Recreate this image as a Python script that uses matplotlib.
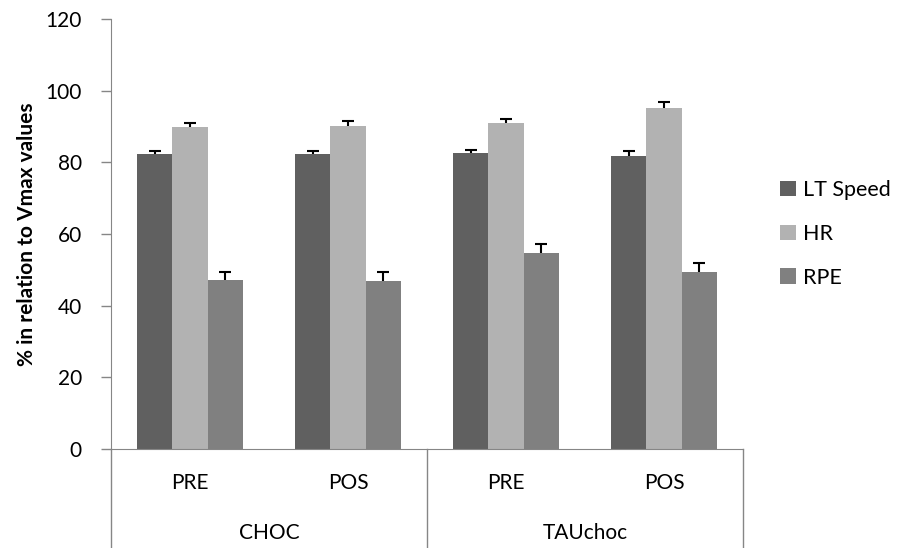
import matplotlib.pyplot as plt
import matplotlib.transforms as mtransforms
import numpy as np

plt.rcParams['font.family'] = ['Lato', 'DejaVu Sans']

# data
phases = ['PRE', 'POS', 'PRE', 'POS']
groups = ['CHOC', 'TAUchoc']
series = ['LT Speed', 'HR', 'RPE']
lt_speed = [82.3, 82.3, 82.6, 81.9]
lt_speed_err = [0.9, 0.9, 0.8, 1.2]
hr = [89.8, 90.1, 90.9, 95.3]
hr_err = [1.3, 1.4, 1.3, 1.4]
rpe = [47.2, 47.0, 54.6, 49.5]
rpe_err = [2.3, 2.4, 2.6, 2.5]

colors = ['#606060', '#b2b2b2', '#808080']
grey = '#868686'
fs = 15

fig = plt.figure(figsize=(9.07, 5.48), dpi=100)
ax = fig.add_axes([0.1224, 0.1807, 0.6968, 0.7846])

x = np.arange(len(phases))
w = 0.222
cap = 0.04
vals = [lt_speed, hr, rpe]
errs = [lt_speed_err, hr_err, rpe_err]
for i in range(3):
    xs = x + (i - 1) * w
    v = np.array(vals[i])
    e = np.array(errs[i])
    ax.bar(xs, v, w, color=colors[i], label=series[i], zorder=2)
    # upper error bars only, as in the original
    ax.vlines(xs, v, v + e, color='black', lw=1.5, zorder=3)
    ax.hlines(v + e, xs - cap, xs + cap, color='black', lw=1.5, zorder=3)

ax.set_xlim(-0.5, 3.5)
ax.set_ylim(0, 120)
ax.set_yticks(range(0, 121, 20))
ax.tick_params(axis='y', labelsize=fs, length=7, width=1, color=grey,
               direction='out', pad=14)
ax.set_xticks([])
for s in ['top', 'right']:
    ax.spines[s].set_visible(False)
ax.spines['left'].set_color(grey)
ax.spines['bottom'].set_color(grey)

ax.set_ylabel('% in relation to Vmax values', fontsize=fs, fontweight='bold', labelpad=6)

# multi-level category axis
trans = mtransforms.blended_transform_factory(ax.transData, ax.transAxes)
low = -0.24
for xb in [-0.5, 1.5, 3.5]:
    ax.plot([xb, xb], [0, low], color=grey, lw=1, transform=trans, clip_on=False)
for xi, p in zip(x, phases):
    ax.text(xi, -0.079, p, transform=trans, ha='center', va='center', fontsize=fs)
for gi, g in enumerate(groups):
    ax.text(gi * 2 + 0.5, -0.196, g, transform=trans, ha='center', va='center', fontsize=fs)

ax.legend(loc='center left', bbox_to_anchor=(1.045, 0.5), frameon=False, fontsize=15.5,
          handlelength=0.72, handleheight=0.72, handletextpad=0.34, labelspacing=1.1,
          borderaxespad=0)

fig.savefig('out.png', dpi=100)
